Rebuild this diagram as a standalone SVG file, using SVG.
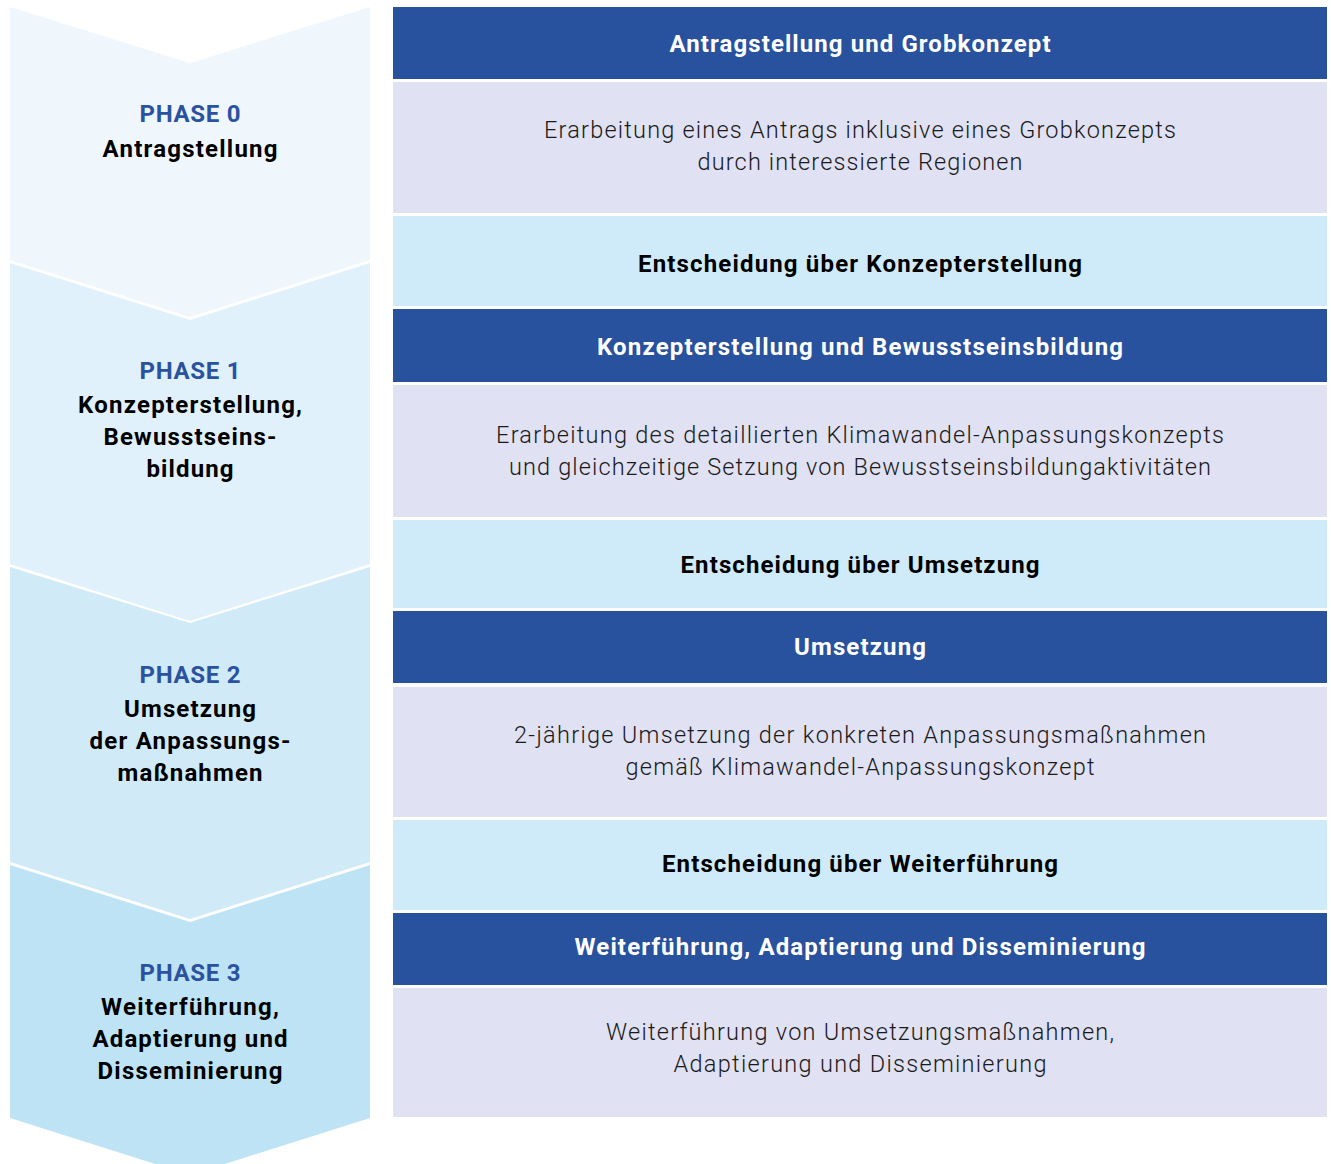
<svg xmlns="http://www.w3.org/2000/svg" width="1331" height="1164" viewBox="0 0 1331 1164">
<style>
.dark{fill:#28519E}
.lav{fill:#E0E1F3}
.lb{fill:#CFEAF8}
.hw{font-family:Roboto,"Liberation Sans",sans-serif;font-weight:700;font-size:24px;fill:#FFFFFF;text-anchor:middle}
.hb{font-family:Roboto,"Liberation Sans",sans-serif;font-weight:700;font-size:24px;fill:#000000;text-anchor:middle}
.bt{font-family:Roboto,"Liberation Sans",sans-serif;font-weight:300;font-size:23.5px;fill:#1A1A1A;text-anchor:middle}
.ph{font-family:Roboto,"Liberation Sans",sans-serif;font-weight:700;font-size:24px;fill:#2A52A0;text-anchor:middle}
.pl{font-family:Roboto,"Liberation Sans",sans-serif;font-weight:700;font-size:24px;fill:#000000;text-anchor:middle}
</style>
<rect width="1331" height="1164" fill="#FFFFFF"/>
<g id="phase0">
<polygon points="10,7 190,63 370,7 370,260 190,317 10,260" fill="#EFF7FD"/>
<text class="ph" x="190" y="122" textLength="101" lengthAdjust="spacing">PHASE 0</text>
<text class="pl" x="190" y="157" textLength="175" lengthAdjust="spacing">Antragstellung</text>
</g>
<g id="phase1">
<polygon points="10,263 190,320 370,263 370,564 190,621 10,564" fill="#E0F1FB"/>
<text class="ph" x="190" y="379" textLength="101" lengthAdjust="spacing">PHASE 1</text>
<text class="pl" x="190" y="413" textLength="224" lengthAdjust="spacing">Konzepterstellung,</text>
<text class="pl" x="190" y="445" textLength="173" lengthAdjust="spacing">Bewusstseins-</text>
<text class="pl" x="190" y="477" textLength="87" lengthAdjust="spacing">bildung</text>
</g>
<g id="phase2">
<polygon points="10,567 190,623 370,567 370,862 190,919 10,862" fill="#D0EAF8"/>
<text class="ph" x="190" y="683" textLength="101" lengthAdjust="spacing">PHASE 2</text>
<text class="pl" x="190" y="717" textLength="132" lengthAdjust="spacing">Umsetzung</text>
<text class="pl" x="190" y="749" textLength="201" lengthAdjust="spacing">der Anpassungs-</text>
<text class="pl" x="190" y="781" textLength="145" lengthAdjust="spacing">maßnahmen</text>
</g>
<g id="phase3">
<polygon points="10,865 190,922 370,865 370,1118 190,1175 10,1118" fill="#BEE3F5"/>
<text class="ph" x="190" y="981" textLength="101" lengthAdjust="spacing">PHASE 3</text>
<text class="pl" x="190" y="1015" textLength="178" lengthAdjust="spacing">Weiterführung,</text>
<text class="pl" x="190" y="1047" textLength="195" lengthAdjust="spacing">Adaptierung und</text>
<text class="pl" x="190" y="1079" textLength="185" lengthAdjust="spacing">Disseminierung</text>
</g>
<g id="header0">
<rect class="dark" x="393" y="7" width="934" height="72"/>
<text class="hw" x="860" y="52" textLength="381" lengthAdjust="spacing">Antragstellung und Grobkonzept</text>
</g>
<g id="body0">
<rect class="lav" x="393" y="82" width="934" height="131"/>
<text class="bt" x="860" y="138" textLength="632" lengthAdjust="spacing">Erarbeitung eines Antrags inklusive eines Grobkonzepts</text>
<text class="bt" x="860" y="170" textLength="325" lengthAdjust="spacing">durch interessierte Regionen</text>
</g>
<g id="decision0">
<rect class="lb" x="393" y="216" width="934" height="90"/>
<text class="hb" x="860" y="272" textLength="444" lengthAdjust="spacing">Entscheidung über Konzepterstellung</text>
</g>
<g id="header1">
<rect class="dark" x="393" y="309" width="934" height="73"/>
<text class="hw" x="860" y="355" textLength="526" lengthAdjust="spacing">Konzepterstellung und Bewusstseinsbildung</text>
</g>
<g id="body1">
<rect class="lav" x="393" y="385" width="934" height="132"/>
<text class="bt" x="860" y="443" textLength="728" lengthAdjust="spacing">Erarbeitung des detaillierten Klimawandel-Anpassungskonzepts</text>
<text class="bt" x="860" y="475" textLength="702" lengthAdjust="spacing">und gleichzeitige Setzung von Bewusstseinsbildungaktivitäten</text>
</g>
<g id="decision1">
<rect class="lb" x="393" y="520" width="934" height="88"/>
<text class="hb" x="860" y="573" textLength="359" lengthAdjust="spacing">Entscheidung über Umsetzung</text>
</g>
<g id="header2">
<rect class="dark" x="393" y="611" width="934" height="72"/>
<text class="hw" x="860" y="655" textLength="132" lengthAdjust="spacing">Umsetzung</text>
</g>
<g id="body2">
<rect class="lav" x="393" y="687" width="934" height="130"/>
<text class="bt" x="860" y="743" textLength="692" lengthAdjust="spacing">2-jährige Umsetzung der konkreten Anpassungsmaßnahmen</text>
<text class="bt" x="860" y="775" textLength="469" lengthAdjust="spacing">gemäß Klimawandel-Anpassungskonzept</text>
</g>
<g id="decision2">
<rect class="lb" x="393" y="820" width="934" height="90"/>
<text class="hb" x="860" y="872" textLength="396" lengthAdjust="spacing">Entscheidung über Weiterführung</text>
</g>
<g id="header3">
<rect class="dark" x="393" y="913" width="934" height="72"/>
<text class="hw" x="860" y="955" textLength="571" lengthAdjust="spacing">Weiterführung, Adaptierung und Disseminierung</text>
</g>
<g id="body3">
<rect class="lav" x="393" y="988" width="934" height="129"/>
<text class="bt" x="860" y="1040" textLength="508" lengthAdjust="spacing">Weiterführung von Umsetzungsmaßnahmen,</text>
<text class="bt" x="860" y="1072" textLength="373" lengthAdjust="spacing">Adaptierung und Disseminierung</text>
</g>
<g id="connectors"/>
</svg>
